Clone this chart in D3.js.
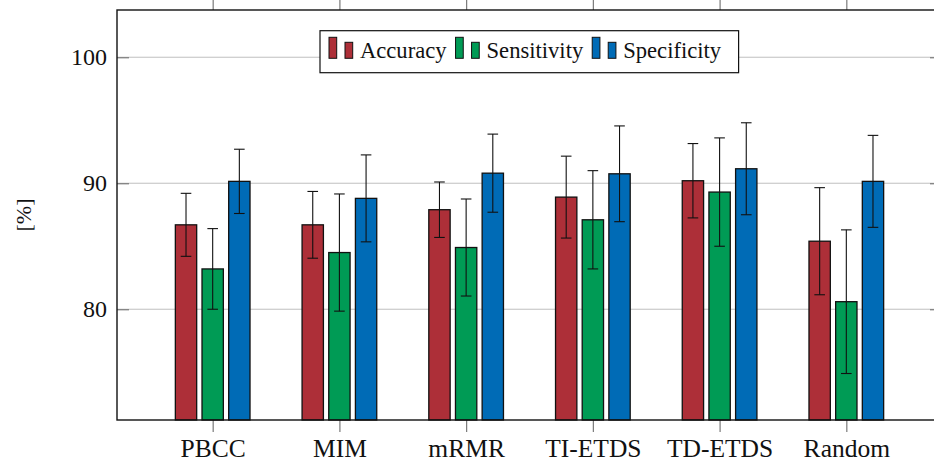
<!DOCTYPE html>
<html>
<head>
<meta charset="utf-8">
<script src="https://cdn.jsdelivr.net/npm/d3@7"></script>
<style>
  html, body { margin: 0; padding: 0; background: #fff; }
  svg { display: block; }
</style>
</head>
<body>
<svg id="chart" width="934" height="465"></svg>
<script>
// Classifier comparison: mean scores with standard-deviation error bars
const categories = ["PBCC", "MIM", "mRMR", "TI-ETDS", "TD-ETDS", "Random"];
const seriesNames = ["Accuracy", "Sensitivity", "Specificity"];
const seriesColors = ["#AD2F38", "#009B55", "#006BB6"];

const accuracy       = [86.7, 86.7, 87.9, 88.9, 90.2, 85.4];
const accuracyErr    = [2.5, 2.65, 2.2, 3.25, 2.95, 4.25];
const sensitivity    = [83.2, 84.5, 84.9, 87.1, 89.3, 80.6];
const sensitivityErr = [3.2, 4.65, 3.85, 3.9, 4.3, 5.7];
const specificity    = [90.15, 88.8, 90.8, 90.75, 91.15, 90.15];
const specificityErr = [2.55, 3.45, 3.1, 3.8, 3.65, 3.65];

const yTicks = [80, 90, 100];
const yLabel = "[%]";

const FONT = "Liberation Serif, serif";

const seriesValues = [accuracy, sensitivity, specificity];
const seriesErrors = [accuracyErr, sensitivityErr, specificityErr];

const svg = d3.select("#chart");

const plot = { left: 117, right: 942, top: 10, bottom: 420 };

const x = d3.scalePoint()
  .domain(categories)
  .range([plot.left, plot.right])
  .padding(0.755);

const xSeries = d3.scaleBand()
  .domain(seriesNames)
  .range([-40, 40])
  .paddingInner(0.2)
  .paddingOuter(0.1);

const y = d3.scaleLinear()
  .domain([71.21, 103.75])
  .range([plot.bottom, plot.top]);

// horizontal grid
svg.append("g")
  .selectAll("line")
  .data(yTicks)
  .join("line")
  .attr("x1", plot.left).attr("x2", plot.right)
  .attr("y1", d => y(d)).attr("y2", d => y(d))
  .attr("stroke", "#bfbfbf").attr("stroke-width", 1);

// axes
const gLeft = svg.append("g")
  .attr("transform", `translate(${plot.left},0)`)
  .call(d3.axisLeft(y).tickValues(yTicks).tickSize(-12).tickPadding(10).tickFormat(d3.format("d")));
gLeft.attr("font-family", FONT);
gLeft.selectAll("text").attr("font-size", 24).attr("font-family", FONT).attr("fill", "#111");

const gRight = svg.append("g")
  .attr("transform", `translate(${plot.right},0)`)
  .call(d3.axisRight(y).tickValues(yTicks).tickSize(-12).tickFormat(""));

const gBottom = svg.append("g")
  .attr("transform", `translate(0,${plot.bottom})`)
  .call(d3.axisBottom(x).tickSize(12));
gBottom.attr("font-family", FONT);
gBottom.selectAll("text")
  .attr("y", 37).attr("dy", 0)
  .attr("font-size", 25.5).attr("font-family", FONT).attr("fill", "#111");

const gTop = svg.append("g")
  .attr("transform", `translate(0,${plot.top})`)
  .call(d3.axisTop(x).tickSize(12).tickFormat(""));

[gLeft, gRight, gBottom, gTop].forEach(g => {
  g.select(".domain").remove();
  g.selectAll(".tick line").attr("stroke", "#7a7a7a").attr("stroke-width", 1.2);
});

// bars
const groups = svg.append("g")
  .selectAll("g")
  .data(seriesNames)
  .join("g")
  .attr("fill", (d, i) => seriesColors[i]);

groups.each(function(name, si) {
  const g = d3.select(this);
  const vals = seriesValues[si];
  const errs = seriesErrors[si];
  const rows = categories.map((c, i) => ({ c, v: vals[i], e: errs[i] }));

  g.selectAll("rect")
    .data(rows)
    .join("rect")
    .attr("x", d => x(d.c) + xSeries(name))
    .attr("width", xSeries.bandwidth())
    .attr("y", d => y(d.v))
    .attr("height", d => y.range()[0] - y(d.v))
    .attr("stroke", "#111").attr("stroke-width", 1.3);

  const cx = d => x(d.c) + xSeries(name) + xSeries.bandwidth() / 2;
  const eb = g.append("g").attr("stroke", "#111").attr("stroke-width", 1.1).attr("fill", "none");
  eb.selectAll("line.v").data(rows).join("line").attr("class", "v")
    .attr("x1", cx).attr("x2", cx)
    .attr("y1", d => y(d.v + d.e)).attr("y2", d => y(d.v - d.e));
  eb.selectAll("line.t").data(rows).join("line").attr("class", "t")
    .attr("x1", d => cx(d) - 5.3).attr("x2", d => cx(d) + 5.3)
    .attr("y1", d => y(d.v + d.e)).attr("y2", d => y(d.v + d.e));
  eb.selectAll("line.b").data(rows).join("line").attr("class", "b")
    .attr("x1", d => cx(d) - 5.3).attr("x2", d => cx(d) + 5.3)
    .attr("y1", d => y(d.v - d.e)).attr("y2", d => y(d.v - d.e));
});

// frame
svg.append("rect")
  .attr("x", plot.left).attr("y", plot.top)
  .attr("width", plot.right - plot.left).attr("height", plot.bottom - plot.top)
  .attr("fill", "none").attr("stroke", "#111").attr("stroke-width", 1.4);

// y label
svg.append("text")
  .attr("transform", `translate(31,${(plot.top + plot.bottom) / 2}) rotate(-90)`)
  .attr("text-anchor", "middle")
  .attr("font-family", FONT)
  .attr("fill", "#111")
  .attr("font-size", 22)
  .text(yLabel);

// legend
const legend = svg.append("g").attr("transform", "translate(320,30.7)");
const legendBox = legend.append("rect")
  .attr("fill", "#fff").attr("stroke", "#111").attr("stroke-width", 1.2)
  .attr("height", 42);
let lx = 9;
seriesNames.forEach((name, i) => {
  const item = legend.append("g");
  item.append("rect").attr("x", lx).attr("y", 6.6).attr("width", 7.7).attr("height", 21)
    .attr("fill", seriesColors[i]).attr("stroke", "#111").attr("stroke-width", 1);
  item.append("rect").attr("x", lx + 16).attr("y", 11.6).attr("width", 7.7).attr("height", 16)
    .attr("fill", seriesColors[i]).attr("stroke", "#111").attr("stroke-width", 1);
  const t = item.append("text").attr("x", lx + 31).attr("y", 27.6)
    .attr("font-family", FONT).attr("fill", "#111")
    .attr("font-size", 22.6).text(name);
  lx += 31 + t.node().getComputedTextLength() + 9;
});
legendBox.attr("width", lx + 8.5);
</script>
</body>
</html>
